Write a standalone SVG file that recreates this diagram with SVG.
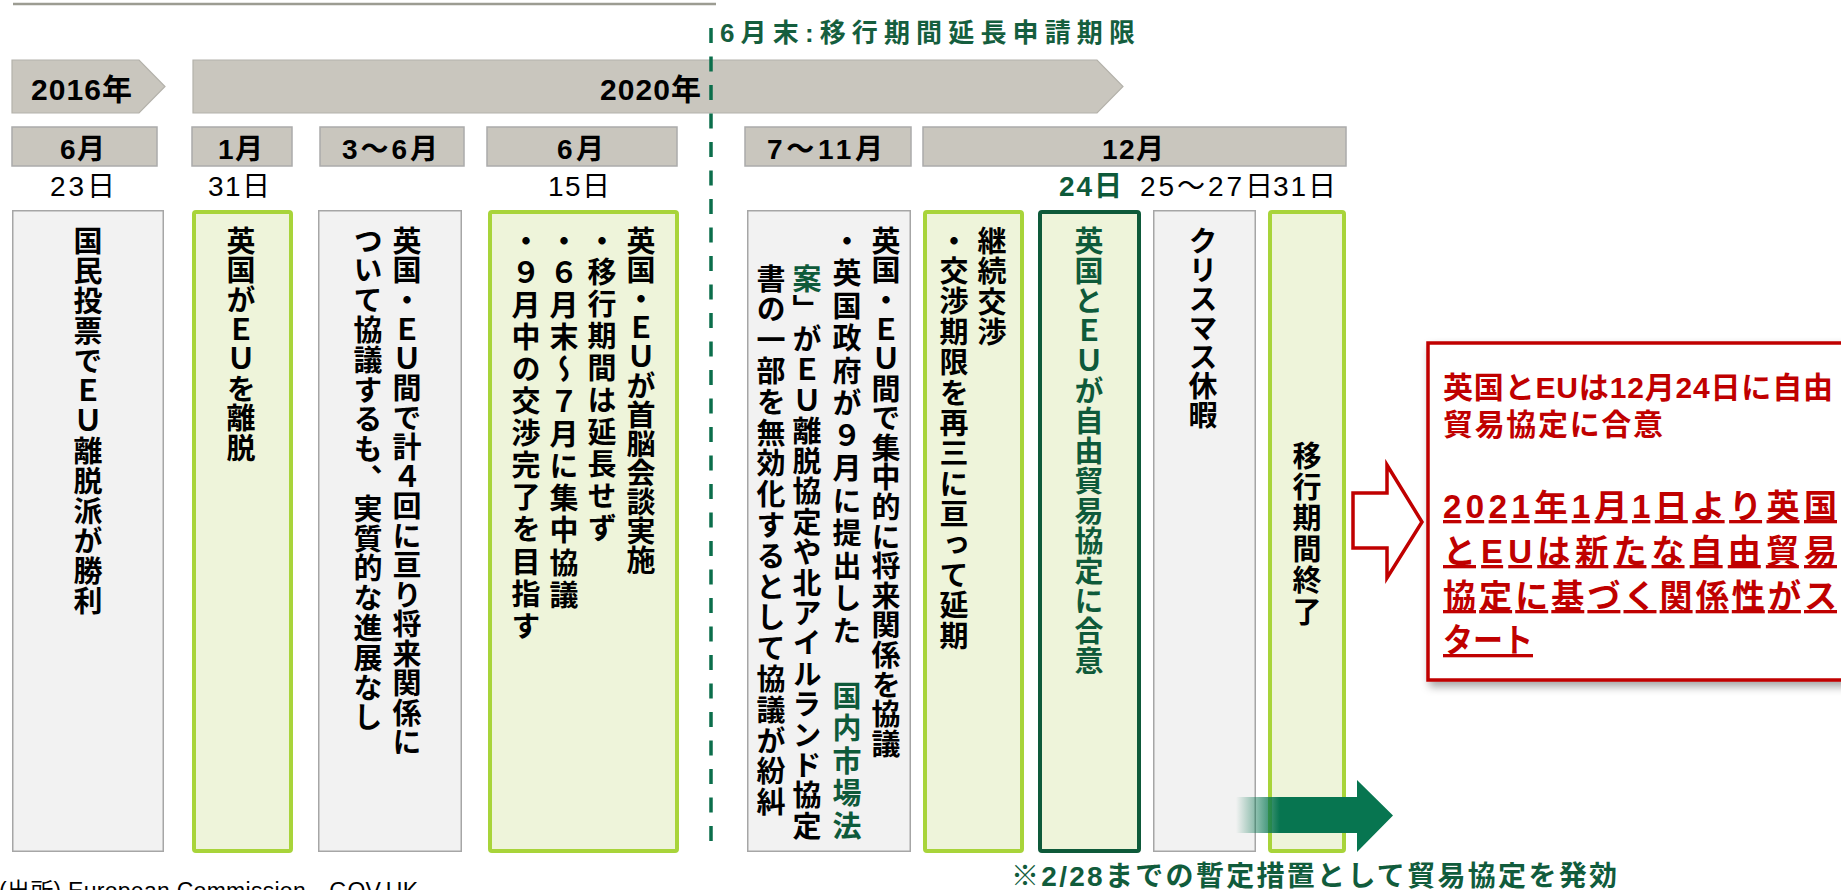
<svg xmlns="http://www.w3.org/2000/svg" width="1841" height="890" viewBox="0 0 1841 890">
<defs>
<style>
.hz{font-family:"Liberation Sans","Noto Sans CJK JP",sans-serif}
.b{font-weight:bold}
.chev{fill:#C9C6BE;stroke:#B4B2AB;stroke-width:1.2}
.mon{fill:#C9C6BE;stroke:#ABABAB;stroke-width:1.5}
.mlbl{font-family:"Liberation Sans","Noto Sans CJK JP",sans-serif;font-weight:bold;font-size:28px;fill:#000}
.ylbl{font-family:"Liberation Sans","Noto Sans CJK JP",sans-serif;font-weight:bold;font-size:30px;fill:#000}
.day{font-family:"Liberation Sans","Noto Sans CJK JP",sans-serif;font-size:28px;fill:#000}
.day.g{fill:#0E5A3A;font-weight:bold}
.gbox{fill:#F2F2F2;stroke:#A6A6A6;stroke-width:1.5}
.lbox{fill:#EEF4DA;stroke:#A8D43A;stroke-width:4}
.dbox{fill:#EEF4DA;stroke:#0E5A3A;stroke-width:4}
.vt{font-family:"Noto Sans CJK JP",sans-serif;font-weight:bold;font-size:29px;fill:#000;writing-mode:vertical-rl;text-orientation:upright}
.grn{fill:#0E5A3A}
.red{font-family:"Liberation Sans","Noto Sans CJK JP",sans-serif;font-weight:bold;fill:#C00000}
.u{text-decoration:underline}
</style>
<linearGradient id="fade" x1="1236" y1="0" x2="1280" y2="0" gradientUnits="userSpaceOnUse">
<stop offset="0" stop-color="#077550" stop-opacity="0"/>
<stop offset="1" stop-color="#077550" stop-opacity="1"/>
</linearGradient>
<filter id="shadow" x="-10%" y="-10%" width="130%" height="130%">
<feDropShadow dx="3" dy="5" stdDeviation="4" flood-color="#000" flood-opacity="0.35"/>
</filter>
</defs>

<rect width="1841" height="890" fill="#FFFFFF"/>
<line x1="13" y1="4" x2="716" y2="4" stroke="#9C9C92" stroke-width="2.5"/>

<g id="deadline-label">
<text class="hz b" x="720" y="42" font-size="26" fill="#155E3E" textLength="415">6月末:移行期間延長申請期限</text>
</g>

<g id="year-2016">
<polygon class="chev" points="12,60 139,60 165,86.5 139,113 12,113"/>
<text class="ylbl" x="31" y="100" textLength="101">2016年</text>
</g>
<g id="year-2020">
<polygon class="chev" points="193,60 1097,60 1123,86.5 1097,113 193,113"/>
<text class="ylbl" x="600" y="100" textLength="101">2020年</text>
</g>

<g id="months">
<rect class="mon" x="12" y="127" width="145" height="39"/>
<text class="mlbl" x="60" y="159" textLength="45">6月</text>
<rect class="mon" x="192" y="127" width="100" height="39"/>
<text class="mlbl" x="218" y="159" textLength="45">1月</text>
<rect class="mon" x="320" y="127" width="144" height="39"/>
<text class="mlbl" x="342" y="159" textLength="96">3〜6月</text>
<rect class="mon" x="487" y="127" width="190" height="39"/>
<text class="mlbl" x="557" y="159" textLength="47">6月</text>
<rect class="mon" x="745" y="127" width="166" height="39"/>
<text class="mlbl" x="767" y="159" textLength="116">7〜11月</text>
<rect class="mon" x="923" y="127" width="423" height="39"/>
<text class="mlbl" x="1102" y="159" textLength="62">12月</text>
</g>

<g id="days">
<text class="day" x="50" y="196" textLength="65">23日</text>
<text class="day" x="208" y="196" textLength="62">31日</text>
<text class="day" x="548" y="196" textLength="62">15日</text>
<text class="day g" x="1059" y="196" textLength="63">24日</text>
<text class="day" x="1140" y="196" textLength="133">25〜27日</text>
<text class="day" x="1273" y="196" textLength="63">31日</text>
</g>

<g id="box-referendum">
<rect class="gbox" x="12.75" y="210.75" width="150.5" height="640.5"/>
<text class="vt" x="88" y="226" letter-spacing="1">国民投票でＥＵ離脱派が勝利</text>
</g>
<g id="box-brexit">
<rect class="lbox" x="194" y="212" width="97" height="639" rx="2"/>
<text class="vt" x="241" y="226" letter-spacing="0.6">英国がＥＵを離脱</text>
</g>
<g id="box-talks">
<rect class="gbox" x="318.75" y="210.75" width="142.5" height="640.5"/>
<text class="vt" x="407" y="226" letter-spacing="0.5">英国・ＥＵ間で計４回に亘り将来関係に</text>
<text class="vt" x="368" y="226" letter-spacing="0.8">ついて協議するも、実質的な進展なし</text>
</g>
<g id="box-summit">
<rect class="lbox" x="490" y="212" width="187" height="639" rx="2"/>
<text class="vt" x="641" y="226" letter-spacing="0">英国・ＥＵが首脳会談実施</text>
<text class="vt" x="602" y="226" letter-spacing="2.9">・移行期間は延長せず</text>
<text class="vt" x="564" y="226" letter-spacing="3.2">・６月末～７月に集中協議</text>
<text class="vt" x="526" y="226" letter-spacing="3.1">・９月中の交渉完了を目指す</text>
</g>
<g id="box-negotiation">
<rect class="gbox" x="747.75" y="210.75" width="162.5" height="640.5"/>
<text class="vt" x="886" y="226" letter-spacing="0.6">英国・ＥＵ間で集中的に将来関係を協議</text>
<text class="vt" x="847" y="226" letter-spacing="3.5">・英国政府が９月に提出した　<tspan class="grn">国内市場法</tspan></text>
<text class="vt" x="807" y="264" letter-spacing="1.4"><tspan class="grn">案</tspan>」がＥＵ離脱協定や北アイルランド協定</text>
<text class="vt" x="771" y="264" letter-spacing="1.8">書の一部を無効化するとして協議が紛糾</text>
</g>
<g id="box-extension">
<rect class="lbox" x="925" y="212" width="97" height="639" rx="2"/>
<text class="vt" x="992" y="226" letter-spacing="1.5">継続交渉</text>
<text class="vt" x="954" y="226" letter-spacing="1.4">・交渉期限を再三に亘って延期</text>
</g>
<g id="box-agreement">
<rect class="dbox" x="1040" y="212" width="99" height="639" rx="2"/>
<text class="vt grn" x="1089" y="226" letter-spacing="1">英国とＥＵが自由貿易協定に合意</text>
</g>
<g id="box-christmas">
<rect class="gbox" x="1153.75" y="210.75" width="101.5" height="640.5"/>
<text class="vt" x="1203" y="226" letter-spacing="0">クリスマス休暇</text>
</g>
<g id="box-end">
<rect class="lbox" x="1270" y="212" width="74" height="639" rx="2"/>
<text class="vt" x="1307" y="441" letter-spacing="2.2">移行期間終了</text>
</g>

<g id="note-result">
<rect x="1428" y="343" width="430" height="337" fill="#FFFFFF" stroke="#C00000" stroke-width="3.5" filter="url(#shadow)"/>
<text class="red" x="1443" y="398" font-size="30" textLength="390">英国とEUは12月24日に自由</text>
<text class="red" x="1443" y="435" font-size="30" textLength="220">貿易協定に合意</text>
<text class="red u" x="1443" y="518" font-size="33" textLength="394">2021年1月1日より英国</text>
<text class="red u" x="1443" y="563" font-size="33" textLength="394">とEUは新たな自由貿易</text>
<text class="red u" x="1443" y="608" font-size="33" textLength="394">協定に基づく関係性がス</text>
<text class="red u" x="1443" y="652" font-size="33" textLength="90" lengthAdjust="spacingAndGlyphs">タート</text>
</g>

<g id="connectors">
<line x1="711" y1="28" x2="711" y2="847" stroke="#0B6E4B" stroke-width="3.5" stroke-dasharray="15 13.5"/>
<polygon points="1353,493 1387,493 1387,465 1422,522 1387,578 1387,548 1353,548" fill="#FFFFFF" stroke="#C00000" stroke-width="3.5" stroke-linejoin="miter"/>
<polygon points="1236,797 1357,797 1357,780 1393,815.5 1357,852 1357,833 1236,833" fill="url(#fade)"/>
</g>

<g id="footnote">
<text class="hz b" x="1011" y="886" font-size="28" fill="#115C3C" textLength="606">※2/28までの暫定措置として貿易協定を発効</text>
</g>
<g id="source">
<text class="hz" x="-1" y="899" font-size="23" fill="#000" textLength="419">(出所) European Commission、GOV.UK</text>
</g>
</svg>
